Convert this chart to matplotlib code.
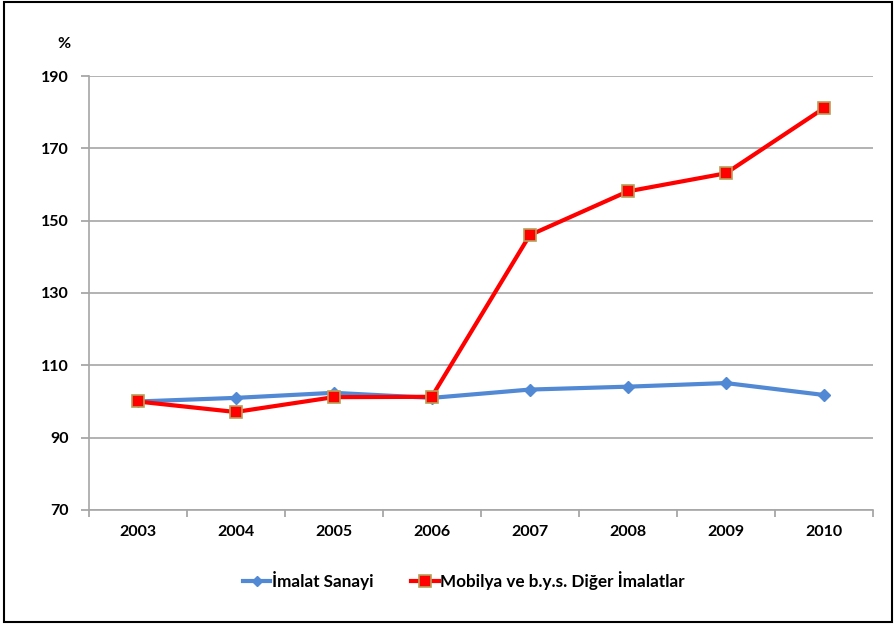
import matplotlib.pyplot as plt
import matplotlib.patches as mpatches

# veriler
years = ['2003', '2004', '2005', '2006', '2007', '2008', '2009', '2010']
imalat = [100, 101, 102.4, 101, 103.3, 104.1, 105.1, 101.8]
mobilya = [100, 97.1, 101.2, 101.3, 146, 158.1, 163.1, 181.1]
yticks = [70, 90, 110, 130, 150, 170, 190]

plt.rcParams['font.family'] = ['Lato', 'DejaVu Sans']
plt.rcParams['font.weight'] = 'bold'

fig = plt.figure(figsize=(8.95, 6.24), dpi=100)
ax = fig.add_axes([0.0989, 0.1827, 0.8765, 0.6955])

x = range(len(years))
ax.plot(x, imalat, color='#5289D4', lw=3, marker='D', ms=6,
        mfc='#5289D4', mec='#5289D4', label='İmalat Sanayi', zorder=3)
ax.plot(x, mobilya, color='#FF0000', lw=3, marker='s', ms=9,
        mfc='#FF0000', mec='#B8A05A', mew=1.2,
        label='Mobilya ve b.y.s. Diğer İmalatlar', zorder=4)

ax.set_xlim(-0.5, len(years) - 0.5)
ax.set_ylim(70, 190)
ax.set_yticks(yticks)
ax.set_yticklabels([str(v) for v in yticks], fontsize=11.5, fontweight='bold')
ax.set_xticks(x)
ax.set_xticklabels(years, fontsize=11.5, fontweight='bold')
ax.set_xticks([i - 0.5 for i in range(len(years) + 1)], minor=True)
ax.tick_params(axis='x', which='major', length=0, pad=11)
ax.tick_params(axis='x', which='minor', length=5, color='#A0A0A0', width=1.2)
ax.tick_params(axis='y', length=6, color='#A0A0A0', width=1.2, pad=8)

ax.grid(axis='y', color='#A6A6A6', lw=1.2)
ax.set_axisbelow(True)
for s in ['top', 'right']:
    ax.spines[s].set_visible(False)
for s in ['left', 'bottom']:
    ax.spines[s].set_color('#A6A6A6')
    ax.spines[s].set_linewidth(1.2)

fig.text(64 / 895, 1 - 44 / 624, '%', fontsize=11.5, fontweight='bold',
         ha='center', va='center')

fig.legend(loc='center', bbox_to_anchor=(464 / 895, 1 - 580 / 624), ncol=2,
           frameon=False, fontsize=12.3, handlelength=1.6, handletextpad=0.1,
           columnspacing=2.2, markerscale=0.9)

fig.patches.append(mpatches.Rectangle((0.005, 0.004), 0.992, 0.992,
                                      transform=fig.transFigure, fill=False,
                                      edgecolor='black', lw=1.5))

fig.savefig('out.png', dpi=100)
